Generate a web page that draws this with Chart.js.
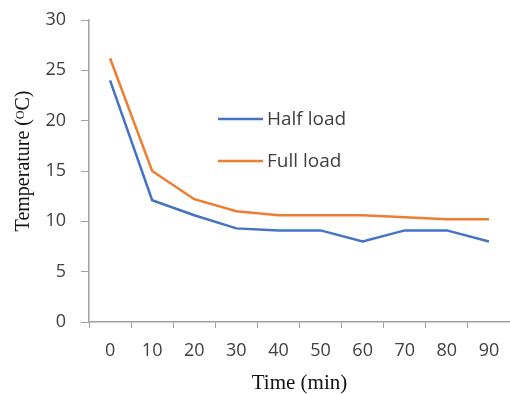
<!DOCTYPE html>
<html>
<head>
<meta charset="utf-8">
<script src="https://cdn.jsdelivr.net/npm/chart.js@4/dist/chart.umd.min.js"></script>
<style>
  html, body { margin: 0; padding: 0; background: #fff; }
  #wrap { width: 510px; height: 394px; }
</style>
</head>
<body>
<div id="wrap"><canvas id="tempChart" width="510" height="394"></canvas></div>
<script>
var timeLabels = ['0', '10', '20', '30', '40', '50', '60', '70', '80', '90'];
var halfLoad = [24, 12.1, 10.6, 9.3, 9.1, 9.1, 8, 9.1, 9.1, 8];
var fullLoad = [26.2, 15, 12.2, 11, 10.6, 10.6, 10.6, 10.4, 10.2, 10.2];
var yTicks = [0, 5, 10, 15, 20, 25, 30];

var axisGrey = '#a0a0a0';
var textGrey = '#404040';

// legend sits inside the plot, drawn by hand
var insideLegend = {
    id: 'insideLegend',
    afterDraw: function(chart) {
        var ctx = chart.ctx;
        var rows = [119, 161];
        ctx.save();
        ctx.font = '19px "Open Sans"';
        ctx.textBaseline = 'middle';
        chart.data.datasets.forEach(function(ds, i) {
            ctx.strokeStyle = ds.borderColor;
            ctx.lineWidth = 2.5;
            ctx.beginPath();
            ctx.moveTo(218, rows[i]);
            ctx.lineTo(263, rows[i]);
            ctx.stroke();
            ctx.fillStyle = textGrey;
            ctx.fillText(ds.label, 267, rows[i] + 1);
        });
        ctx.restore();
    }
};

var ctx = document.getElementById('tempChart').getContext('2d');
var tempChart = new Chart(ctx, {
    type: 'line',
    data: {
        labels: timeLabels,
        datasets: [
            { label: 'Half load', data: halfLoad, borderColor: '#4472C4', borderWidth: 2.5, pointRadius: 0, tension: 0 },
            { label: 'Full load', data: fullLoad, borderColor: '#ED7D31', borderWidth: 2.5, pointRadius: 0, tension: 0 }
        ]
    },
    options: {
        responsive: false,
        animation: false,
        layout: { padding: { top: 20, right: 0, left: 0, bottom: 0 } },
        plugins: {
            legend: { display: false },
            tooltip: { enabled: false }
        },
        scales: {
            x: {
                offset: true,
                grid: { offset: true, drawOnChartArea: false, drawTicks: true, tickLength: 6, color: axisGrey },
                border: { color: axisGrey, width: 1.5 },
                ticks: { color: textGrey, font: { family: 'Open Sans', size: 18 }, padding: 12, maxRotation: 0 },
                title: {
                    display: true,
                    text: 'Time (min)',
                    color: '#111',
                    font: { family: 'Liberation Serif', size: 21, lineHeight: 1 },
                    padding: 0
                },
                afterFit: function(scale) {
                    scale.height = 72;
                    scale.paddingLeft = 0;
                    scale.paddingRight = 0;
                }
            },
            y: {
                min: 0,
                max: 30,
                afterBuildTicks: function(scale) {
                    scale.ticks = yTicks.map(function(v) { return { value: v }; });
                },
                grid: { drawOnChartArea: false, drawTicks: true, tickLength: 8, color: axisGrey },
                border: { color: axisGrey, width: 1.5 },
                ticks: { color: textGrey, font: { family: 'Open Sans', size: 18 }, padding: 15 },
                title: {
                    display: true,
                    text: '    Temperature (ᴼC)',
                    color: '#111',
                    font: { family: 'Liberation Serif', size: 20, lineHeight: 1 },
                    padding: { top: 14, bottom: 0 }
                },
                afterFit: function(scale) {
                    scale.width = 89;
                    scale.paddingTop = 0;
                    scale.paddingBottom = 0;
                }
            }
        }
    },
    plugins: [insideLegend]
});
</script>
</body>
</html>
